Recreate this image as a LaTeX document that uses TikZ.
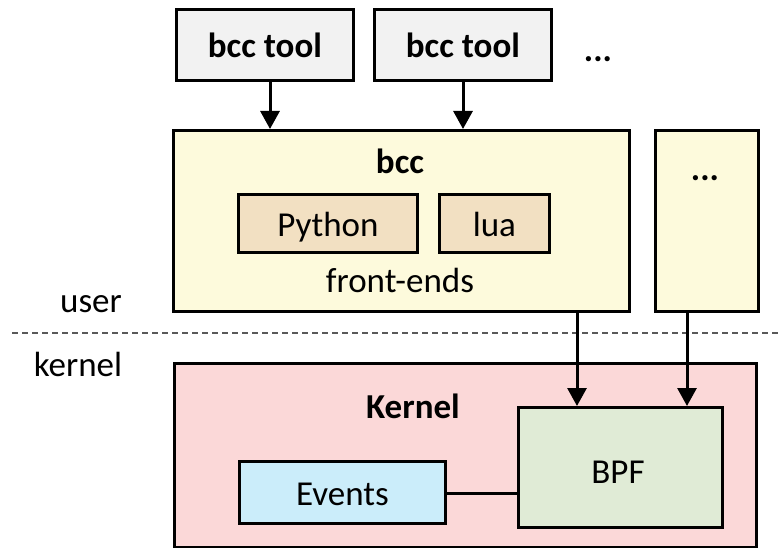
\documentclass[tikz,border=0pt]{standalone}
\usepackage{fontspec}
\setmainfont{Carlito}
\usetikzlibrary{arrows.meta}
\definecolor{toolfill}{HTML}{F2F2F2}
\definecolor{bccfill}{HTML}{FDFADC}
\definecolor{fefill}{HTML}{F2E0C2}
\definecolor{kernfill}{HTML}{FBD8D8}
\definecolor{bpffill}{HTML}{E0EBD6}
\definecolor{evfill}{HTML}{CBEDFA}
\tikzset{
  box/.style={draw=black, line width=2.8pt, inner sep=0pt, anchor=north west},
  txt/.style={inner sep=0pt, text height=33pt, text depth=7pt, font=\fontsize{35}{42}\selectfont},
  btxt/.style={inner sep=0pt, text height=33pt, text depth=7pt, font=\fontsize{35}{42}\selectfont\bfseries},
  arr/.style={line width=3pt, -{Triangle[width=19pt,length=18pt]}},
}
\begin{document}
\begin{tikzpicture}[x=1pt,y=-1pt]
\useasboundingbox (0,0) rectangle (778,548);
% top tools
\node[box, fill=toolfill, minimum width=177pt, minimum height=71pt, btxt] (tool1) at (175,8) {bcc tool};
\node[box, fill=toolfill, minimum width=177pt, minimum height=71pt, btxt] (tool2) at (373,8) {bcc tool};
\node[btxt] (dots1) at (598,49) {...};
% bcc box
\node[box, fill=bccfill, minimum width=456pt, minimum height=181pt] (bcc) at (172,129) {};
\node[btxt] (bcclbl) at (400,160) {bcc};
\node[box, fill=fefill, minimum width=179pt, minimum height=58pt, txt] (py) at (237,193) {Python};
\node[box, fill=fefill, minimum width=110pt, minimum height=58pt, txt] (lua) at (438,193) {lua};
\node[txt] (fe) at (400,279) {front-ends};
% other box
\node[box, fill=bccfill, minimum width=103pt, minimum height=181pt] (other) at (654,129) {};
\node[btxt] (dots2) at (705,167) {...};
% user / kernel
\node[txt] (user) at (91,299) {user};
\node[txt] (kern) at (78,363) {kernel};
\coordinate (dl) at (12,333);
\coordinate (dr) at (778,333);
\draw[line width=1.4pt, dash pattern=on 6pt off 4pt, black!65] (dl) -- (dr);
% kernel box
\node[box, fill=kernfill, minimum width=582pt, minimum height=184pt] (kbox) at (173,362) {};
\node[btxt] (klbl) at (413,405) {Kernel};
\node[box, fill=bpffill, minimum width=204pt, minimum height=120pt] (bpf) at (517,406) {};
\node[txt] (bpflbl) at (618,470) {BPF};
\node[box, fill=evfill, minimum width=206pt, minimum height=62pt, txt] (ev) at (238,460) {Events};
% connectors
\coordinate (a1) at (270,0);
\coordinate (a2) at (463,0);
\coordinate (a3) at (577,0);
\coordinate (a4) at (687,0);
\draw[arr] (tool1.south -| a1) -- (bcc.north -| a1);
\draw[arr] (tool2.south -| a2) -- (bcc.north -| a2);
\draw[arr] (bcc.south -| a3) -- (bpf.north -| a3);
\draw[arr] (other.south -| a4) -- (bpf.north -| a4);
\draw[line width=3.6pt] ([yshift=-1pt]ev.east) -- ([yshift=-1pt]ev.east -| bpf.west);
\end{tikzpicture}
\end{document}
